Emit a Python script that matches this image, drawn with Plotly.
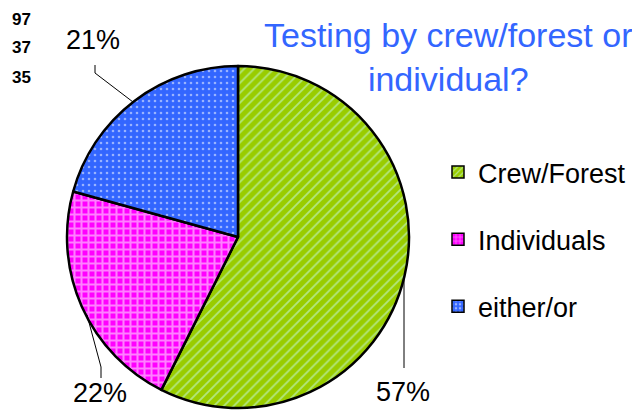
import plotly.graph_objects as go

labels = ["Crew/Forest", "Individuals", "either/or"]
values = [97, 37, 35]
colors = ["#99CC00", "#FF00FF", "#3366FF"]
pat_shapes = ["/", "+", "."]
pat_colors = ["#CCFFFF", "#FFFFFF", "#FFFFFF"]

# la page html a une marge de 8px autour du graphique
OFF = 8
W, H = 640 - OFF, 416 - OFF


def px(x, y):
    return (x - OFF) / W, 1 - (y - OFF) / H


total = sum(values)
pcts = [f"{round(v * 100 / total)}%" for v in values]

pattern = dict(shape=pat_shapes, fgcolor=pat_colors, size=[7, 7, 6],
               solidity=[0.25, 0.5, 0.15], fillmode="overlay")

fig = go.Figure()
x0, y0 = px(67, 408)
x1, y1 = px(409, 66)
fig.add_trace(go.Pie(
    labels=labels,
    values=values,
    sort=False,
    direction="clockwise",
    rotation=0,
    textinfo="none",
    showlegend=False,
    hoverinfo="label+value+percent",
    marker=dict(colors=colors, line=dict(color="black", width=2.5), pattern=pattern),
    domain=dict(x=[x0, x1], y=[y0, y1]),
))

# traces vides pour la légende (espacement vertical plus grand)
for i, lab in enumerate(labels):
    fig.add_trace(go.Bar(
        x=[lab], y=[None], name=lab, legendgroup=lab,
        marker=dict(color=colors[i], line=dict(color="black", width=1.5),
                    pattern=dict(shape=pat_shapes[i], fgcolor=pat_colors[i], size=5,
                                 solidity=0.3, fillmode="overlay")),
        hoverinfo="skip",
    ))

# valeurs brutes en haut à gauche
for v, yy in zip(values, [19, 48, 77]):
    x, y = px(10, yy)
    fig.add_annotation(x=x, y=y, xref="paper", yref="paper", text=f"<b>{v}</b>",
                       showarrow=False, xanchor="left", yanchor="middle",
                       font=dict(size=17, color="black", family="Arial"))

# étiquettes de pourcentage avec lignes de rappel
label_pos = [(403, 392), (100, 393), (93, 40)]
leaders = [
    [(404, 278), (404, 368)],
    [(87, 315), (101, 367), (101, 378)],
    [(95, 65), (95, 73), (133, 102)],
]
for t, (lx, ly), pts in zip(pcts, label_pos, leaders):
    x, y = px(lx, ly)
    fig.add_annotation(x=x, y=y, xref="paper", yref="paper", text=t, showarrow=False,
                       xanchor="center", yanchor="middle",
                       font=dict(size=27, color="black", family="Arial"))
    path = "M " + " L ".join(f"{px(a, b)[0]},{px(a, b)[1]}" for a, b in pts)
    fig.add_shape(type="path", path=path, xref="paper", yref="paper",
                  line=dict(color="black", width=1))

# titre
tx, ty = px(448, 57)
fig.add_annotation(x=tx, y=ty, xref="paper", yref="paper",
                   text="Testing by crew/forest or<br>individual?", showarrow=False,
                   xanchor="center", yanchor="middle",
                   font=dict(size=34, color="#3366FF", family="Arial"))

lx, ly = px(438, 148)
fig.update_layout(
    width=W, height=H,
    margin=dict(l=0, r=0, t=0, b=0),
    paper_bgcolor="white",
    plot_bgcolor="white",
    xaxis=dict(visible=False),
    yaxis=dict(visible=False),
    legend=dict(x=lx, y=ly, xanchor="left", yanchor="top",
                font=dict(size=27, color="black", family="Arial"),
                tracegroupgap=29, bgcolor="rgba(0,0,0,0)"),
    font=dict(family="Arial"),
)

fig.write_html("out.html")
